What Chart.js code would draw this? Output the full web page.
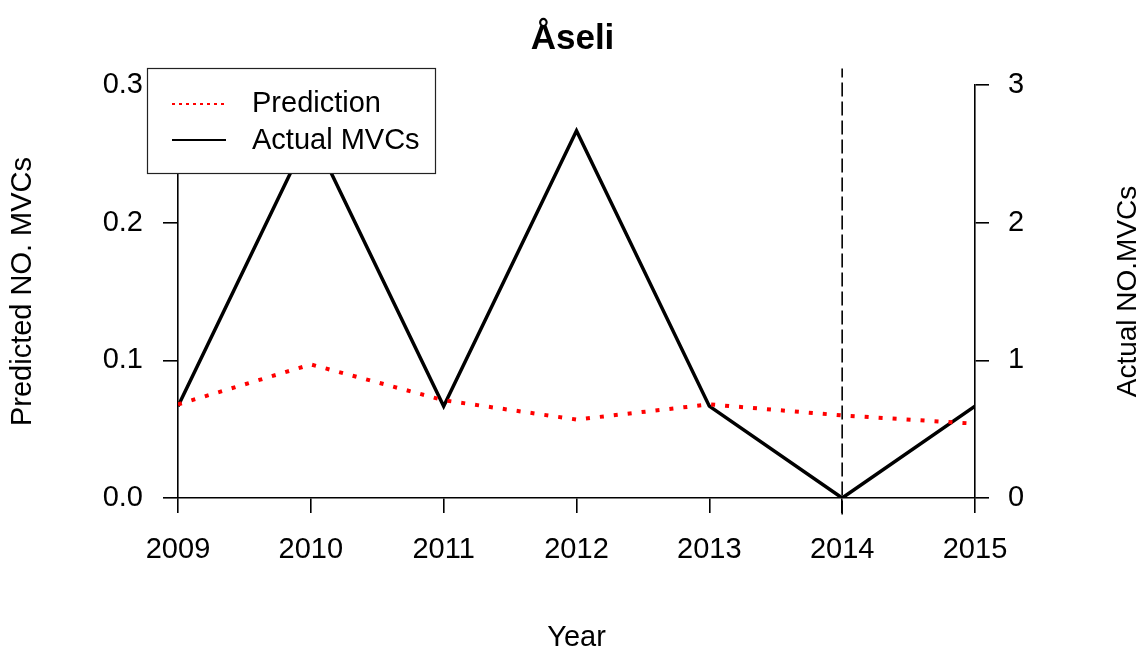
<!DOCTYPE html>
<html>
<head>
<meta charset="utf-8">
<script src="https://cdn.jsdelivr.net/npm/chart.js@4.4.1/dist/chart.umd.min.js"></script>
<style>
  html, body { margin: 0; padding: 0; background: #fff; }
  #wrap { width: 1145px; height: 651px; }
</style>
</head>
<body>
<div id="wrap"><canvas id="c" width="1145" height="651"></canvas></div>
<script>
const chartTitle = "Åseli";
const years = [2009, 2010, 2011, 2012, 2013, 2014, 2015];
const prediction = [0.068, 0.097, 0.071, 0.057, 0.068, 0.060, 0.054];
const actual = [0.667, 2.667, 0.667, 2.667, 0.667, 0, 0.667];
const leftTicks = [0, 0.1, 0.2, 0.3];
const rightTicks = [0, 1, 2, 3];
const markerYear = 2014;
const markerSpan = [-0.012, 0.312];
const labelPred = "Prediction";
const labelActual = "Actual MVCs";
const leftTitle = "Predicted NO. MVCs";
const rightTitle = "Actual NO.MVCs";
const xTitle = "Year";

const FONT = "'Liberation Sans', Arial, sans-serif";

const overlay = {
  id: 'overlay',
  afterDraw(chart) {
    const ctx = chart.ctx;
    const ca = chart.chartArea;
    ctx.save();
    ctx.fillStyle = '#000';
    ctx.font = "28px " + FONT;
    ctx.textAlign = 'center';
    ctx.textBaseline = 'middle';
    ctx.translate(1128, (ca.top + ca.bottom) / 2);
    ctx.rotate(-Math.PI / 2);
    ctx.fillText(rightTitle, 0, 0);
    ctx.restore();

    // legend box
    const bx = 147, by = 68, bw = 288, bh = 105;
    ctx.save();
    ctx.fillStyle = '#fff';
    ctx.fillRect(bx, by, bw, bh);
    ctx.strokeStyle = '#222';
    ctx.lineWidth = 1.2;
    ctx.strokeRect(bx + 0.5, by + 0.5, bw, bh);
    ctx.lineWidth = 2;
    ctx.strokeStyle = '#ff0000';
    ctx.setLineDash([3, 4]);
    ctx.beginPath(); ctx.moveTo(172, 104); ctx.lineTo(226, 104); ctx.stroke();
    ctx.setLineDash([]);
    ctx.strokeStyle = '#000';
    ctx.beginPath(); ctx.moveTo(172, 140); ctx.lineTo(226, 140); ctx.stroke();
    ctx.fillStyle = '#000';
    ctx.font = "29px " + FONT;
    ctx.textAlign = 'left';
    ctx.textBaseline = 'middle';
    ctx.fillText(chart.data.datasets[0].label, 252, 104);
    ctx.fillText(chart.data.datasets[1].label, 252, 141);
    ctx.restore();
  }
};

new Chart(document.getElementById('c'), {
  type: 'line',
  data: {
    datasets: [
      {
        label: labelPred,
        data: years.map((y, i) => ({ x: y, y: prediction[i] })),
        yAxisID: 'y',
        borderColor: '#ff0000',
        borderWidth: 4,
        borderDash: [4, 10],
        pointRadius: 0,
        tension: 0,
        fill: false,
        order: 0
      },
      {
        label: labelActual,
        data: years.map((y, i) => ({ x: y, y: actual[i] })),
        yAxisID: 'y2',
        borderColor: '#000',
        borderWidth: 3.5,
        pointRadius: 0,
        tension: 0,
        fill: false,
        order: 1
      },
      {
        label: 'marker',
        data: markerSpan.map(v => ({ x: markerYear, y: v })),
        yAxisID: 'y',
        borderColor: '#000',
        borderWidth: 1.6,
        borderDash: [14, 5],
        pointRadius: 0,
        fill: false,
        clip: false,
        order: 2
      }
    ]
  },
  options: {
    responsive: false,
    animation: false,
    devicePixelRatio: 1,
    layout: { padding: 0 },
    plugins: {
      legend: { display: false },
      tooltip: { enabled: false },
      title: {
        display: true,
        text: chartTitle,
        color: '#000',
        font: { family: FONT, size: 35, weight: 'bold' },
        padding: { top: 18, bottom: 25 }
      }
    },
    scales: {
      x: {
        type: 'linear',
        position: 'bottom',
        min: years[0],
        max: years[years.length - 1],
        afterBuildTicks: s => { s.ticks = years.map(v => ({ value: v })); },
        afterFit: s => { s.height = 153; },
        ticks: {
          color: '#000',
          font: { family: FONT, size: 29 },
          padding: 20,
          maxRotation: 0,
          autoSkip: false,
          callback: v => String(v)
        },
        grid: { drawOnChartArea: false, drawTicks: true, tickLength: 15, color: '#000', lineWidth: 1.6 },
        border: { display: true, color: '#000', width: 1.6 },
        title: { display: true, text: xTitle, color: '#000', font: { family: FONT, size: 29 }, padding: { top: 0, bottom: -4 } }
      },
      y: {
        type: 'linear',
        position: 'left',
        min: leftTicks[0],
        max: leftTicks[leftTicks.length - 1],
        afterBuildTicks: s => { s.ticks = leftTicks.map(v => ({ value: v })); },
        afterFit: s => { s.width = 178; },
        ticks: {
          color: '#000',
          font: { family: FONT, size: 29 },
          padding: 20,
          callback: v => v.toFixed(1)
        },
        grid: { drawOnChartArea: false, drawTicks: true, tickLength: 15, color: '#000', lineWidth: 1.6 },
        border: { display: true, color: '#000', width: 1.6 },
        title: { display: true, text: leftTitle, color: '#000', font: { family: FONT, size: 29 }, padding: { top: 6, bottom: 0 } }
      },
      y2: {
        type: 'linear',
        position: 'right',
        min: rightTicks[0],
        max: rightTicks[rightTicks.length - 1],
        afterBuildTicks: s => { s.ticks = rightTicks.map(v => ({ value: v })); },
        afterFit: s => { s.width = 170; },
        ticks: {
          color: '#000',
          font: { family: FONT, size: 29 },
          padding: 19,
          callback: v => String(v)
        },
        grid: { drawOnChartArea: false, drawTicks: true, tickLength: 14, color: '#000', lineWidth: 1.6 },
        border: { display: true, color: '#000', width: 1.6 }
      }
    }
  },
  plugins: [overlay]
});
</script>
</body>
</html>
